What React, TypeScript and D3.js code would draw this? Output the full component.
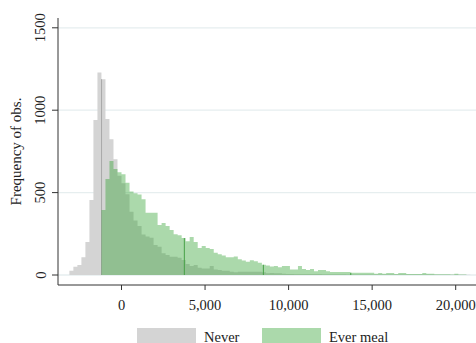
import React from "react";
import * as d3 from "d3";

// Histogram bins: width 240, counts per bin
const binWidth = 240;
const neverStart = -3120;
const everStart = -1200;

const neverCounts = [
  26, 50, 60, 108, 200, 455, 940, 1229, 1188, 947, 823, 702, 603, 556, 490, 384,
  330, 298, 245, 233, 226, 182, 172, 132, 121, 111, 111, 105, 91, 67, 55, 61,
  44, 40, 40, 55, 34, 30, 26, 26, 20, 16, 20, 20, 20, 20, 20, 20,
  16, 10, 12, 10, 10, 8, 6, 6, 5, 5, 5, 4, 4, 4, 4, 3,
  3, 3, 3, 3, 3, 2, 2, 2, 2, 2, 2, 2, 2, 2, 2, 2,
  2, 2, 2, 2, 2, 2, 2, 2, 2, 2, 2, 2, 2, 2, 2, 2,
  2, 2, 2, 2,
];

const everCounts = [
  394, 582, 692, 643, 623, 611, 560, 506, 496, 489, 459, 378, 378, 378, 303, 315,
  297, 273, 248, 241, 224, 205, 230, 201, 164, 176, 164, 158, 135, 126, 118, 107,
  108, 113, 95, 88, 81, 90, 83, 75, 62, 57, 52, 55, 47, 55, 55, 34,
  34, 55, 36, 30, 36, 22, 30, 30, 22, 18, 18, 18, 18, 18, 14, 14,
  14, 14, 14, 14, 8, 12, 8, 12, 12, 6, 12, 12, 6, 6, 6, 6,
  12, 8, 8, 5, 5, 5, 5, 3, 8, 3, 3,
];

// Quantile markers drawn up to the bar height
const neverMarkers = [-1195];
const everMarkers = [3760, 8490, 13720];

const xTicks = [0, 5000, 10000, 15000, 20000];
const yTicks = [0, 500, 1000, 1500];

const legendItems = ["Never", "Ever meal"];

const W = 476;
const H = 343;

const x = d3.scaleLinear().domain([0, 20000]).range([121.5, 455.7]);
const y = d3.scaleLinear().domain([0, 1500]).range([275, 27.8]);

const GRAY = "#d4d4d4";
const GREEN = "rgb(44,160,44)";
const GREEN_OPACITY = 0.4;
const FONT = "'Liberation Serif', 'Times New Roman', serif";

function heightAt(counts: number[], start: number, v: number) {
  const i = Math.floor((v - start) / binWidth);
  return counts[i] ?? 0;
}

// One outline per series so translucent fills never double up at bin edges
function histPath(counts: number[], start: number) {
  const pts = counts.map((c, i) => ({ v: start + i * binWidth, c }));
  pts.push({ v: start + counts.length * binWidth, c: counts[counts.length - 1] });
  const area = d3
    .area<{ v: number; c: number }>()
    .x((d) => x(d.v))
    .y0(y(0))
    .y1((d) => y(d.c))
    .curve(d3.curveStepAfter);
  return area(pts) ?? "";
}

export default function App() {
  const fmt = d3.format(",");
  const axisY = 285;
  const axisX = 58;

  return (
    <svg
      width={W}
      height={H}
      style={{ position: "absolute", left: 0, top: 0, background: "#fff" }}
      fontFamily={FONT}
    >
      <rect x={0} y={0} width={W} height={H} fill="#fff" />

      {/* grid */}
      {yTicks.map((t) => (
        <line
          key={"g" + t}
          x1={axisX}
          x2={W}
          y1={y(t)}
          y2={y(t)}
          stroke="#e6eeef"
          strokeWidth={1.3}
        />
      ))}

      {/* Never */}
      <path d={histPath(neverCounts, neverStart)} fill={GRAY} />
      {neverMarkers.map((m) => (
        <line
          key={"nm" + m}
          x1={x(m)}
          x2={x(m)}
          y1={y(0)}
          y2={y(heightAt(neverCounts, neverStart, m))}
          stroke="#a9a9a9"
          strokeWidth={1}
        />
      ))}

      {/* Ever meal */}
      <path d={histPath(everCounts, everStart)} fill={GREEN} fillOpacity={GREEN_OPACITY} />
      {everMarkers.map((m) => (
        <line
          key={"em" + m}
          x1={x(m)}
          x2={x(m)}
          y1={y(0)}
          y2={y(heightAt(everCounts, everStart, m))}
          stroke="rgb(70,160,70)"
          strokeWidth={1}
        />
      ))}

      {/* y axis */}
      <line x1={axisX} x2={axisX} y1={18} y2={axisY} stroke="#333" strokeWidth={1} />
      {yTicks.map((t) => (
        <g key={"yt" + t}>
          <line x1={axisX - 6} x2={axisX} y1={y(t)} y2={y(t)} stroke="#333" strokeWidth={1} />
          <text
            x={45.5}
            y={y(t)}
            transform={`rotate(-90, 45.5, ${y(t)})`}
            textAnchor="middle"
            fontSize={14.5}
            fill="#222"
          >
            {t}
          </text>
        </g>
      ))}
      <text
        x={20.5}
        y={151.5}
        transform="rotate(-90, 20.5, 151.5)"
        textAnchor="middle"
        fontSize={15}
        fill="#222"
      >
        Frequency of obs.
      </text>

      {/* x axis */}
      <line x1={axisX} x2={W} y1={axisY} y2={axisY} stroke="#333" strokeWidth={1} />
      {xTicks.map((t) => (
        <g key={"xt" + t}>
          <line x1={x(t)} x2={x(t)} y1={axisY} y2={axisY + 5} stroke="#333" strokeWidth={1} />
          <text x={x(t)} y={309.5} textAnchor="middle" fontSize={14.5} fill="#222">
            {fmt(t)}
          </text>
        </g>
      ))}

      {/* legend */}
      <rect x={137} y={328} width={59} height={16} fill={GRAY} />
      <text x={204} y={341.5} fontSize={14.5} fill="#222">
        {legendItems[0]}
      </text>
      <rect x={262} y={328} width={59} height={16} fill={GREEN} fillOpacity={GREEN_OPACITY} />
      <text x={329} y={341.5} fontSize={14.5} fill="#222">
        {legendItems[1]}
      </text>
    </svg>
  );
}
